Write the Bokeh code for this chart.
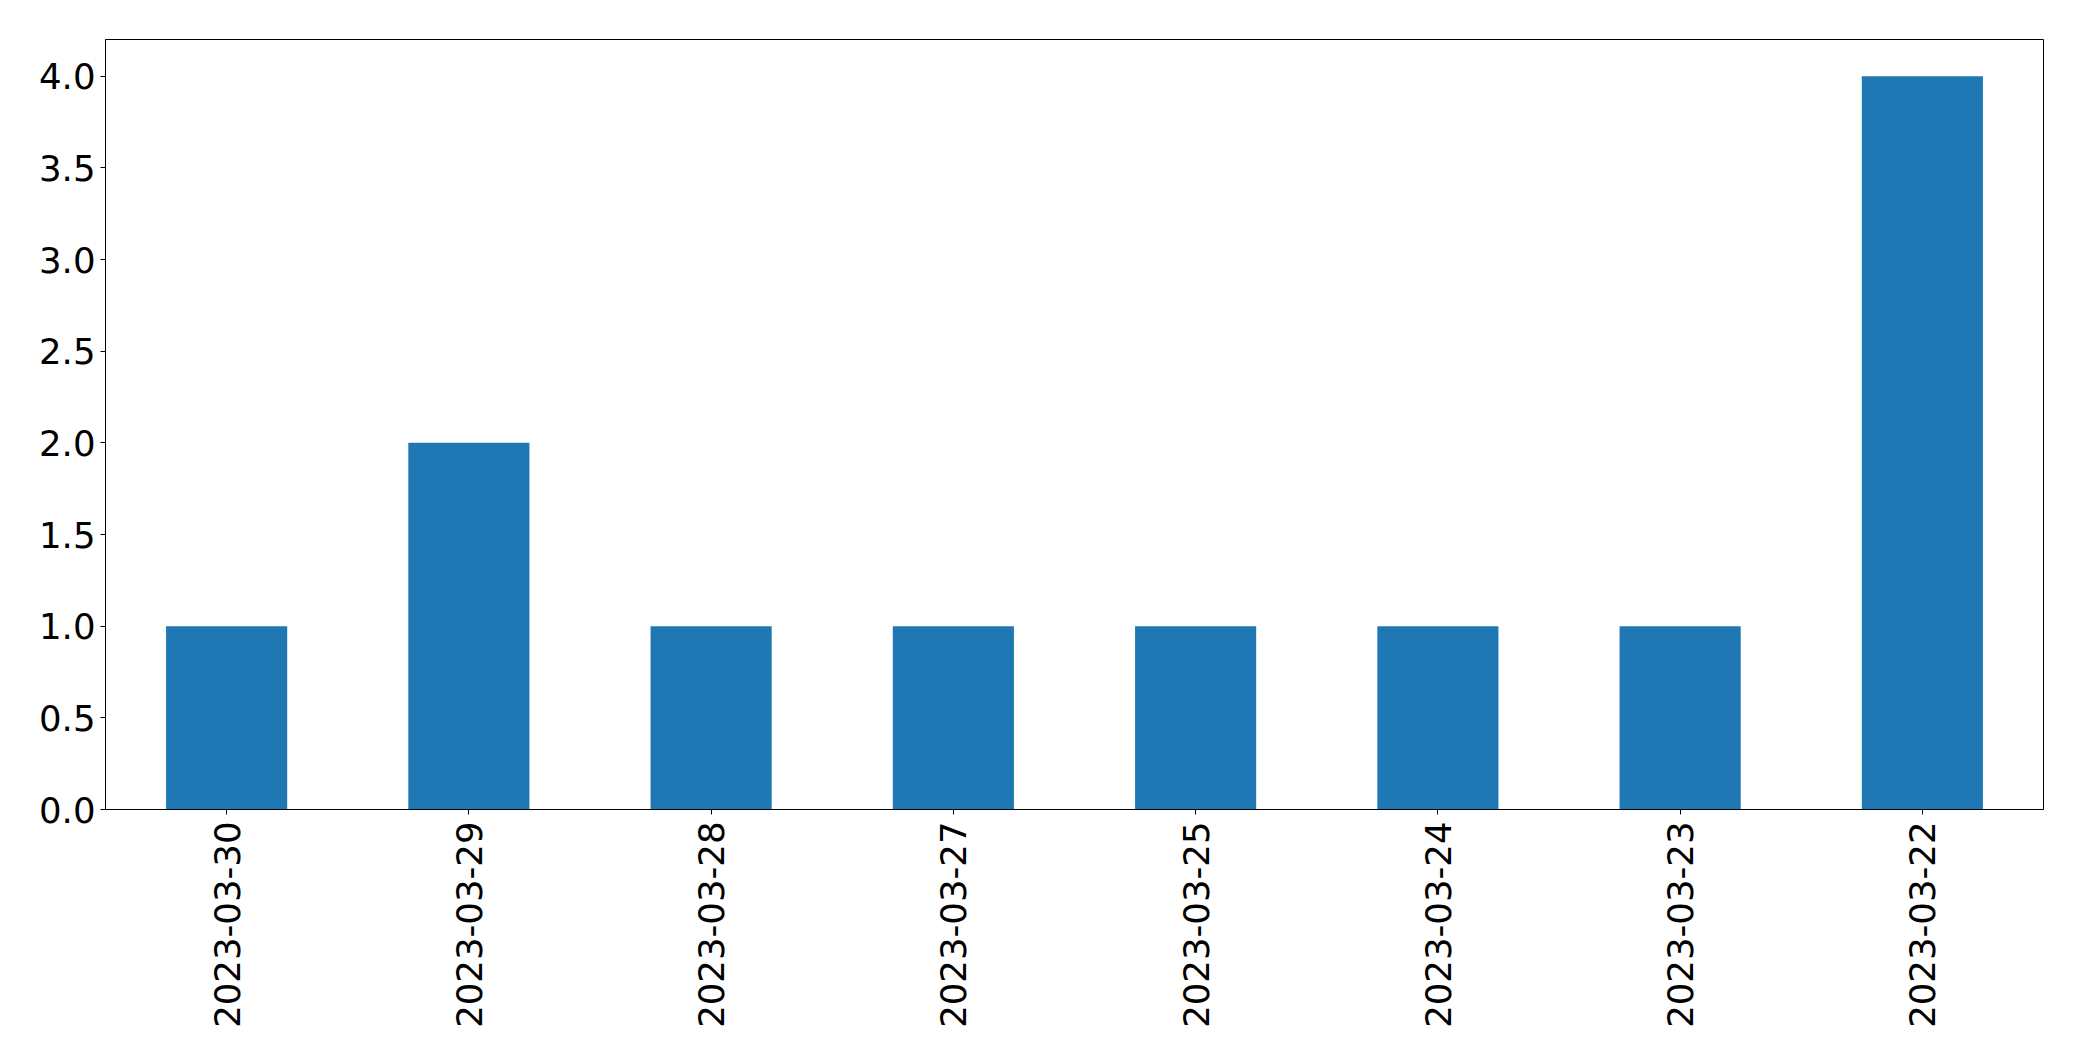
import math
from bokeh.plotting import figure
from bokeh.models import FactorRange, Range1d, FixedTicker, PrintfTickFormatter, ColumnDataSource
from bokeh.embed import file_html
from bokeh.resources import INLINE

dates = ["2023-03-30", "2023-03-29", "2023-03-28", "2023-03-27",
         "2023-03-25", "2023-03-24", "2023-03-23", "2023-03-22"]
counts = [1, 2, 1, 1, 1, 1, 1, 4]
y_ticks = [0.0, 0.5, 1.0, 1.5, 2.0, 2.5, 3.0, 3.5, 4.0]

src = ColumnDataSource(dict(x=dates, top=counts))

p = figure(x_range=FactorRange(*dates), y_range=Range1d(0, 4.2),
           width=2074, height=1053, output_backend="svg", toolbar_location=None,
           min_border_left=105, min_border_right=31, min_border_top=39, min_border_bottom=244)
p.vbar(x="x", top="top", width=0.5, source=src, color="#1f77b4", line_color=None)

p.xgrid.visible = False
p.ygrid.visible = False
p.outline_line_color = "black"
p.outline_line_alpha = 1
p.outline_line_width = 1

for ax in (p.xaxis, p.yaxis):
    ax.axis_line_color = "black"
    ax.major_tick_line_color = "black"
    ax.major_tick_out = 5
    ax.major_tick_in = 0
    ax.minor_tick_line_color = None
    ax.major_label_text_font = "DejaVu Sans"
    ax.major_label_text_font_size = "35.5px"
    ax.major_label_text_color = "black"

p.yaxis.ticker = FixedTicker(ticks=y_ticks)
p.yaxis.formatter = PrintfTickFormatter(format="%.1f")
p.yaxis.major_label_standoff = 5
p.xaxis.major_label_orientation = math.pi / 2
p.xaxis.major_label_standoff = 7
p.xaxis.group_text_font_size = "0px"

open("out.html", "w").write(file_html(p, INLINE))
